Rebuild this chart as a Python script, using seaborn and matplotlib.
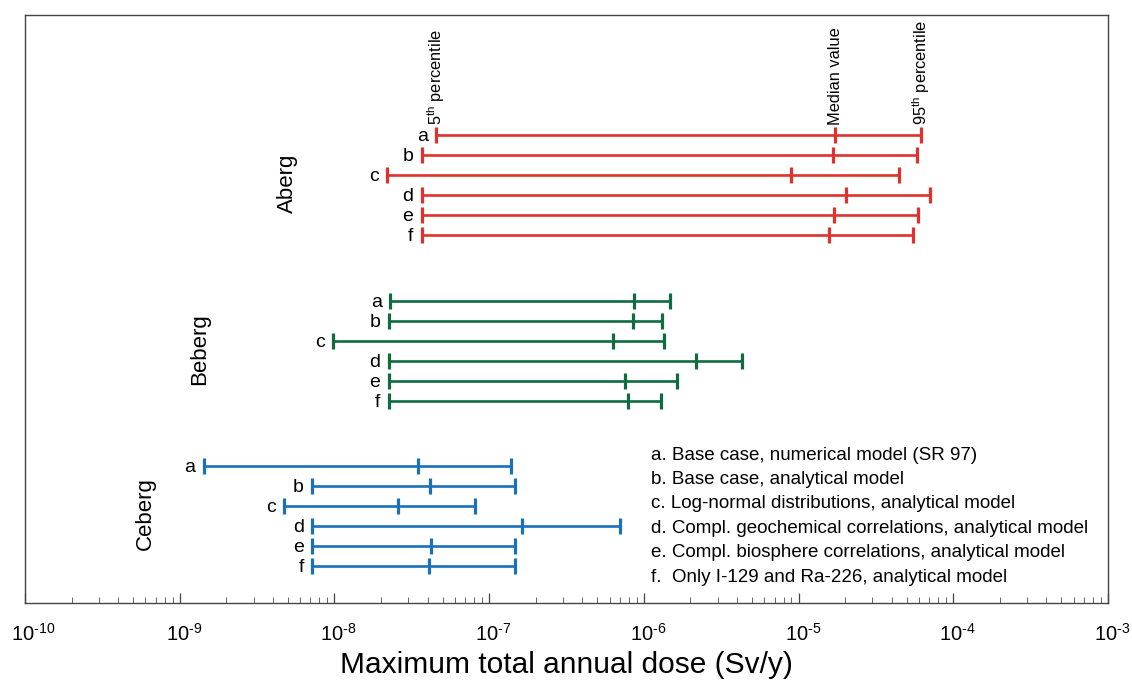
import numpy as np
import pandas as pd
import matplotlib
matplotlib.use("Agg")
import matplotlib.pyplot as plt
import matplotlib.transforms as mtransforms
import seaborn as sns
from matplotlib import ticker

# ---------------- data ----------------
groups = ["Aberg", "Beberg", "Ceberg"]
cases = ["a", "b", "c", "d", "e", "f"]
case_labels = [
    "a. Base case, numerical model (SR 97)",
    "b. Base case, analytical model",
    "c. Log-normal distributions, analytical model",
    "d. Compl. geochemical correlations, analytical model",
    "e. Compl. biosphere correlations, analytical model",
    "f.  Only I-129 and Ra-226, analytical model",
]
decade_exponents = [-10, -9, -8, -7, -6, -5, -4, -3]

aberg_p5 = [4.54e-8, 3.66e-8, 2.20e-8, 3.66e-8, 3.66e-8, 3.66e-8]
aberg_med = [1.73e-5, 1.67e-5, 8.97e-6, 2.04e-5, 1.70e-5, 1.57e-5]
aberg_p95 = [6.18e-5, 5.86e-5, 4.47e-5, 7.03e-5, 5.94e-5, 5.50e-5]

beberg_p5 = [2.29e-8, 2.24e-8, 9.86e-9, 2.24e-8, 2.24e-8, 2.24e-8]
beberg_med = [8.63e-7, 8.47e-7, 6.30e-7, 2.17e-6, 7.55e-7, 7.86e-7]
beberg_p95 = [1.48e-6, 1.31e-6, 1.35e-6, 4.30e-6, 1.64e-6, 1.29e-6]

ceberg_p5 = [1.43e-9, 7.18e-9, 4.73e-9, 7.18e-9, 7.18e-9, 7.18e-9]
ceberg_med = [3.48e-8, 4.12e-8, 2.56e-8, 1.62e-7, 4.23e-8, 4.06e-8]
ceberg_p95 = [1.38e-7, 1.48e-7, 8.05e-8, 6.98e-7, 1.48e-7, 1.48e-7]

colors = ["#e2302c", "#0f6b40", "#1b70bc"]
group_offsets = [0.0, 8.3, 16.55]

p5 = [aberg_p5, beberg_p5, ceberg_p5]
med = [aberg_med, beberg_med, ceberg_med]
p95 = [aberg_p95, beberg_p95, ceberg_p95]

rows = []
for gi, g in enumerate(groups):
    for ci, c in enumerate(cases):
        rows.append(dict(group=g, case=c, y=group_offsets[gi] + ci,
                         p5=p5[gi][ci], med=med[gi][ci], p95=p95[gi][ci]))
df = pd.DataFrame(rows)

# ---------------- style ----------------
sns.set_theme(style="white")
plt.rcParams["font.family"] = ["Liberation Sans", "DejaVu Sans"]
plt.rcParams["text.color"] = "black"
plt.rcParams["axes.labelcolor"] = "black"
plt.rcParams["mathtext.fontset"] = "custom"
plt.rcParams["mathtext.rm"] = "Liberation Sans"
plt.rcParams["mathtext.it"] = "Liberation Sans"
plt.rcParams["mathtext.default"] = "regular"

fig = plt.figure(figsize=(11.32, 6.85), dpi=100)
ax = fig.add_axes([25 / 1132, 1 - 603 / 685, (1108 - 25) / 1132, (603 - 15) / 685])

pal = dict(zip(groups, colors))
# horizontal ranges
for g in groups:
    sub = df[df.group == g]
    ax.hlines(sub.y, sub.p5, sub.p95, color=pal[g], lw=1.9, zorder=2)
# end ticks and medians
long = pd.melt(df, id_vars=["group", "case", "y"], value_vars=["p5", "med", "p95"],
               var_name="stat", value_name="dose")
sns.scatterplot(data=long, x="dose", y="y", hue="group", palette=pal,
                marker="|", s=135, linewidth=2.3, legend=False, ax=ax, zorder=3)

ax.set_xscale("log")
ax.set_xlim(1e-10, 1e-3)
ax.set_ylim(23.4, -6.0)
ax.set_yticks([])
ax.set_ylabel("")

decades = [10.0 ** e for e in decade_exponents]
ax.xaxis.set_major_locator(ticker.FixedLocator(decades))
ax.xaxis.set_minor_locator(ticker.LogLocator(base=10, subs=np.arange(2, 10), numticks=100))
ax.xaxis.set_minor_formatter(ticker.NullFormatter())
ax.xaxis.set_major_formatter(ticker.FixedFormatter(
    [r"$10^{\text{-%d}}$" % abs(e) for e in decade_exponents]))
ax.tick_params(axis="x", which="major", direction="in", length=7, width=0.9,
               colors="#444444", labelcolor="black", labelsize=14.5, pad=14,
               bottom=True, top=False)
ax.tick_params(axis="x", which="minor", direction="in", length=4, width=0.7,
               colors="#666666", bottom=True, top=False)
for s in ax.spines.values():
    s.set_color("#444444")
    s.set_linewidth(1.0)

# labels: the base "10" sits roughly centred on the tick, exponent extends right
fig.canvas.draw()
shift = mtransforms.ScaledTranslation(-10.1 / 72, 0, fig.dpi_scale_trans)
for tk in ax.xaxis.get_major_ticks():
    lab = tk.label1
    lab.set_horizontalalignment("left")
    lab.set_transform(lab.get_transform() + shift)

ax.set_xlabel("Maximum total annual dose (Sv/y)", fontsize=21.5, labelpad=5)

# case letters
for _, r in df.iterrows():
    ax.annotate(r.case, (r.p5, r.y), xytext=(-6, -1), textcoords="offset points",
                ha="right", va="center", fontsize=14)

# group labels
group_x = [0.242, 0.1616, 0.111]
blend = mtransforms.blended_transform_factory(ax.transAxes, ax.transData)
for gi, g in enumerate(groups):
    ax.text(group_x[gi], group_offsets[gi] + 2.4, g, transform=blend,
            rotation=90, ha="center", va="center", fontsize=16)

# percentile annotations on Aberg case a
a0 = df.iloc[0]
ann = [(a0.p5, r"5$^{\mathregular{th}}$ percentile"),
       (a0.med, "Median value"),
       (a0.p95, r"95$^{\mathregular{th}}$ percentile")]
for xv, t in ann:
    ax.annotate(t, (xv, a0.y), xytext=(0, 7), textcoords="offset points",
                rotation=90, ha="center", va="bottom", fontsize=11.8)

# legend text
for i, t in enumerate(case_labels):
    ax.text(0.578, 0.2517 - i * 0.0415, t, transform=ax.transAxes,
            ha="left", va="center", fontsize=13.5)

fig.savefig("out.png", dpi=100)
